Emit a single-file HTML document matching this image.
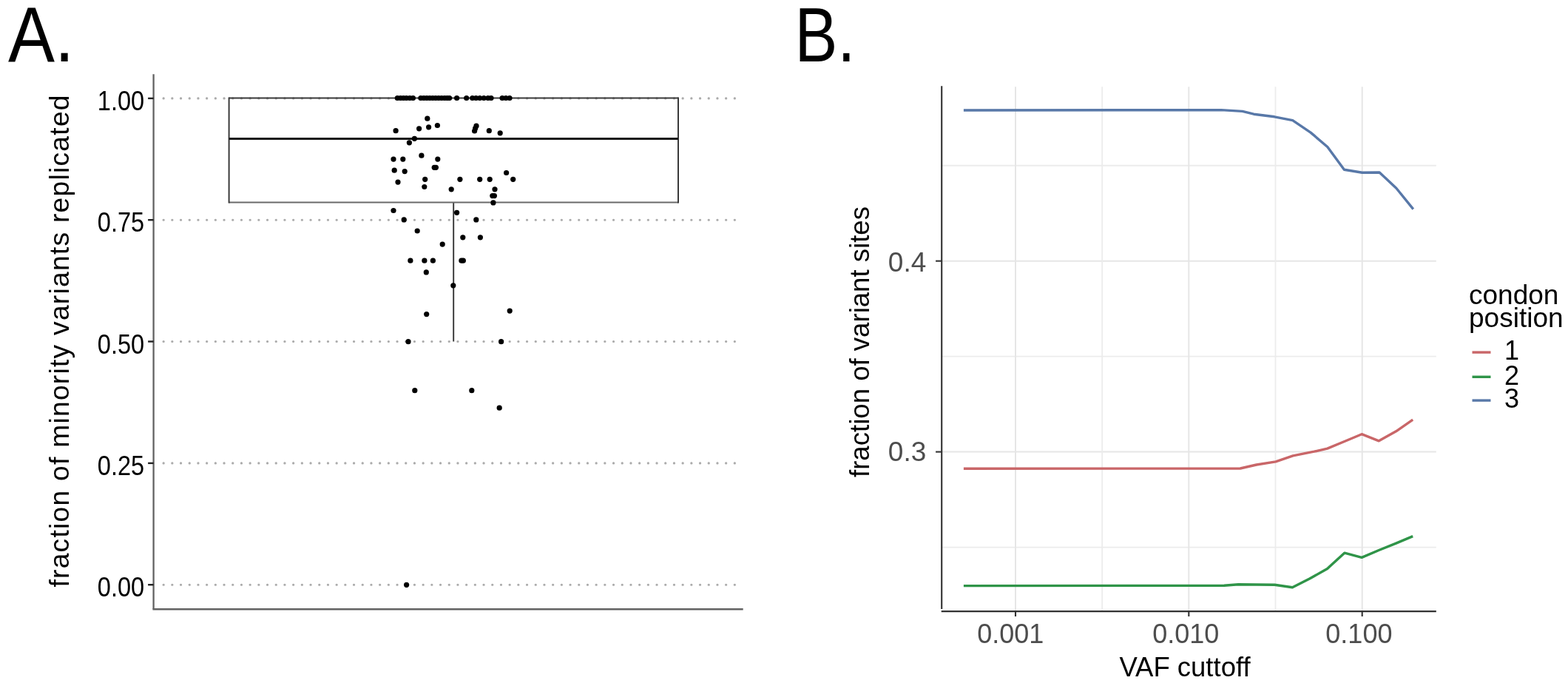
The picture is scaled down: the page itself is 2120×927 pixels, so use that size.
<!DOCTYPE html>
<html><head><meta charset="utf-8"><title>Figure</title>
<style>
html,body{margin:0;padding:0;background:#fff;}
body{width:2120px;height:927px;overflow:hidden;}
svg{display:block;}
text{font-family:"Liberation Sans",Arial,Helvetica,sans-serif;}
</style></head><body>
<svg width="2120" height="927" viewBox="0 0 2120 927">
<rect x="0" y="0" width="2120" height="927" fill="#fff"/>
<line x1="221.05" y1="132.9" x2="1004.7" y2="132.9" stroke="#ababab" stroke-width="3.1" stroke-linecap="round" stroke-dasharray="0.2 11.5"/>
<line x1="221.05" y1="297.2" x2="1004.7" y2="297.2" stroke="#ababab" stroke-width="3.1" stroke-linecap="round" stroke-dasharray="0.2 11.5"/>
<line x1="221.05" y1="461.5" x2="1004.7" y2="461.5" stroke="#ababab" stroke-width="3.1" stroke-linecap="round" stroke-dasharray="0.2 11.5"/>
<line x1="221.05" y1="625.9" x2="1004.7" y2="625.9" stroke="#ababab" stroke-width="3.1" stroke-linecap="round" stroke-dasharray="0.2 11.5"/>
<line x1="221.05" y1="790.2" x2="1004.7" y2="790.2" stroke="#ababab" stroke-width="3.1" stroke-linecap="round" stroke-dasharray="0.2 11.5"/>
<line x1="613.2" y1="273.5" x2="613.2" y2="461.5" stroke="#333" stroke-width="1.9"/>
<line x1="309.6" y1="132.5" x2="917.0" y2="132.5" stroke="#3a3a3a" stroke-width="2"/>
<line x1="309.6" y1="273.5" x2="917.0" y2="273.5" stroke="#6a6a6a" stroke-width="2.2"/>
<line x1="309.6" y1="131.5" x2="309.6" y2="274.5" stroke="#3a3a3a" stroke-width="2"/>
<line x1="917.0" y1="131.5" x2="917.0" y2="274.5" stroke="#3a3a3a" stroke-width="2"/>
<line x1="309.6" y1="187.6" x2="917.0" y2="187.6" stroke="#1a1a1a" stroke-width="3"/>
<g fill="#000">
<circle cx="537.3" cy="132.5" r="3.6"/>
<circle cx="541.5" cy="132.5" r="3.6"/>
<circle cx="545.5" cy="132.5" r="3.6"/>
<circle cx="549.5" cy="132.5" r="3.6"/>
<circle cx="554" cy="132.5" r="3.6"/>
<circle cx="558.4" cy="132.5" r="3.6"/>
<circle cx="568.9" cy="132.5" r="3.6"/>
<circle cx="573" cy="132.5" r="3.6"/>
<circle cx="577" cy="132.5" r="3.6"/>
<circle cx="581" cy="132.5" r="3.6"/>
<circle cx="585" cy="132.5" r="3.6"/>
<circle cx="589" cy="132.5" r="3.6"/>
<circle cx="593" cy="132.5" r="3.6"/>
<circle cx="597" cy="132.5" r="3.6"/>
<circle cx="601" cy="132.5" r="3.6"/>
<circle cx="604.5" cy="132.5" r="3.6"/>
<circle cx="607.6" cy="132.5" r="3.6"/>
<circle cx="617.6" cy="132.5" r="3.6"/>
<circle cx="630.7" cy="132.5" r="3.6"/>
<circle cx="638.7" cy="132.5" r="3.6"/>
<circle cx="643.6" cy="132.5" r="3.6"/>
<circle cx="648.7" cy="132.5" r="3.6"/>
<circle cx="654.2" cy="132.5" r="3.6"/>
<circle cx="659.8" cy="132.5" r="3.6"/>
<circle cx="664" cy="132.5" r="3.6"/>
<circle cx="679.1" cy="132.5" r="3.6"/>
<circle cx="684" cy="132.5" r="3.6"/>
<circle cx="689" cy="132.5" r="3.6"/>
<circle cx="577.8" cy="160.2" r="3.6"/>
<circle cx="535.1" cy="176.7" r="3.6"/>
<circle cx="566.6" cy="173.8" r="3.6"/>
<circle cx="579.6" cy="171.8" r="3.6"/>
<circle cx="591.4" cy="169.5" r="3.6"/>
<circle cx="644" cy="170.2" r="3.6"/>
<circle cx="642.6" cy="173.6" r="3.6"/>
<circle cx="641.6" cy="177" r="3.6"/>
<circle cx="661.3" cy="176.7" r="3.6"/>
<circle cx="676.2" cy="179.8" r="3.6"/>
<circle cx="560.4" cy="187.3" r="3.6"/>
<circle cx="553.4" cy="192.8" r="3.6"/>
<circle cx="532" cy="215.1" r="3.6"/>
<circle cx="544.8" cy="215.1" r="3.6"/>
<circle cx="569.9" cy="210.2" r="3.6"/>
<circle cx="591.8" cy="215.1" r="3.6"/>
<circle cx="587.2" cy="226.3" r="3.6"/>
<circle cx="589.4" cy="226.3" r="3.6"/>
<circle cx="533.2" cy="230.2" r="3.6"/>
<circle cx="547.2" cy="231.6" r="3.6"/>
<circle cx="538" cy="246.1" r="3.6"/>
<circle cx="574.7" cy="242.3" r="3.6"/>
<circle cx="573.8" cy="252.5" r="3.6"/>
<circle cx="610.2" cy="255.8" r="3.6"/>
<circle cx="621.9" cy="242.3" r="3.6"/>
<circle cx="648.7" cy="242.3" r="3.6"/>
<circle cx="662.2" cy="242.3" r="3.6"/>
<circle cx="684.6" cy="233.5" r="3.6"/>
<circle cx="693.7" cy="242.3" r="3.6"/>
<circle cx="669" cy="255.8" r="3.6"/>
<circle cx="665.8" cy="264.6" r="3.6"/>
<circle cx="668.4" cy="264.6" r="3.6"/>
<circle cx="666.9" cy="273.9" r="3.6"/>
<circle cx="532" cy="284.5" r="3.6"/>
<circle cx="617.6" cy="287.3" r="3.6"/>
<circle cx="546.2" cy="296.9" r="3.6"/>
<circle cx="643.8" cy="296.9" r="3.6"/>
<circle cx="564.2" cy="312" r="3.6"/>
<circle cx="625.8" cy="320.8" r="3.6"/>
<circle cx="649.4" cy="320.8" r="3.6"/>
<circle cx="598.2" cy="330.1" r="3.6"/>
<circle cx="554.9" cy="352.2" r="3.6"/>
<circle cx="573.9" cy="352.2" r="3.6"/>
<circle cx="585.4" cy="352.2" r="3.6"/>
<circle cx="623.9" cy="352.2" r="3.6"/>
<circle cx="626.3" cy="352.2" r="3.6"/>
<circle cx="576.3" cy="367.9" r="3.6"/>
<circle cx="612.8" cy="385.8" r="3.6"/>
<circle cx="576.7" cy="424.6" r="3.6"/>
<circle cx="689.2" cy="420.1" r="3.6"/>
<circle cx="552" cy="461.7" r="3.6"/>
<circle cx="677.6" cy="461.7" r="3.6"/>
<circle cx="560.8" cy="527.7" r="3.6"/>
<circle cx="637.8" cy="527.7" r="3.6"/>
<circle cx="675.2" cy="551.2" r="3.6"/>
<circle cx="549.6" cy="790.3" r="3.6"/>
</g>
<line x1="207.6" y1="100.2" x2="207.6" y2="823.2" stroke="#626262" stroke-width="2.3"/>
<line x1="206.45" y1="823.2" x2="1004.7" y2="823.2" stroke="#626262" stroke-width="2.6"/>
<line x1="200.1" y1="132.9" x2="207.6" y2="132.9" stroke="#222" stroke-width="2.4"/>
<line x1="200.1" y1="297.2" x2="207.6" y2="297.2" stroke="#222" stroke-width="2.4"/>
<line x1="200.1" y1="461.5" x2="207.6" y2="461.5" stroke="#222" stroke-width="2.4"/>
<line x1="200.1" y1="625.9" x2="207.6" y2="625.9" stroke="#222" stroke-width="2.4"/>
<line x1="200.1" y1="790.2" x2="207.6" y2="790.2" stroke="#222" stroke-width="2.4"/>
<text transform="translate(195.2 149.1) scale(0.93 1.04)" text-anchor="end" font-size="35">1.00</text>
<text transform="translate(195.2 313.4) scale(0.93 1.04)" text-anchor="end" font-size="35">0.75</text>
<text transform="translate(195.2 477.7) scale(0.93 1.04)" text-anchor="end" font-size="35">0.50</text>
<text transform="translate(195.2 642.1) scale(0.93 1.04)" text-anchor="end" font-size="35">0.25</text>
<text transform="translate(195.2 806.4000000000001) scale(0.93 1.04)" text-anchor="end" font-size="35">0.00</text>
<text transform="translate(93.1 460.4) rotate(-90)" text-anchor="middle" font-size="37.2" letter-spacing="1.26">fraction of minority variants replicated</text>
<line x1="1273.2" y1="223.75" x2="1941.8" y2="223.75" stroke="#ececec" stroke-width="1.8"/>
<line x1="1273.2" y1="481.65" x2="1941.8" y2="481.65" stroke="#ececec" stroke-width="1.8"/>
<line x1="1273.2" y1="739.55" x2="1941.8" y2="739.55" stroke="#ececec" stroke-width="1.8"/>
<line x1="1273.2" y1="352.7" x2="1941.8" y2="352.7" stroke="#e6e6e6" stroke-width="2"/>
<line x1="1273.2" y1="610.6" x2="1941.8" y2="610.6" stroke="#e6e6e6" stroke-width="2"/>
<line x1="1490.2" y1="117.2" x2="1490.2" y2="826.1" stroke="#ececec" stroke-width="1.8"/>
<line x1="1724.5" y1="117.2" x2="1724.5" y2="826.1" stroke="#ececec" stroke-width="1.8"/>
<line x1="1373.0" y1="117.2" x2="1373.0" y2="826.1" stroke="#e6e6e6" stroke-width="2"/>
<line x1="1607.3" y1="117.2" x2="1607.3" y2="826.1" stroke="#e6e6e6" stroke-width="2"/>
<line x1="1841.7" y1="117.2" x2="1841.7" y2="826.1" stroke="#e6e6e6" stroke-width="2"/>
<polyline points="1302.9,633.2 1676.9,633.0 1698.8,628 1724.8,623.9 1748.1,615.9 1776.8,610.2 1794.6,606.1 1817.8,596.5 1841.1,586.7 1864.3,595.8 1887.6,582.8 1910.2,567.1" fill="none" stroke="#c96668" stroke-width="3.4" stroke-linejoin="round"/>
<polyline points="1302.9,791.6 1655,791.2 1674.2,789.8 1723.4,790.3 1747.4,793.7 1770.6,782.1 1794.6,768.4 1817.8,747.2 1841.1,753.4 1864.3,743.5 1887.6,734.2 1910.2,724.6" fill="none" stroke="#2f9448" stroke-width="3.4" stroke-linejoin="round"/>
<polyline points="1302.9,149.0 1651,148.6 1679.8,150.4 1695.1,154.2 1723.1,157.8 1747.7,162.7 1772.1,179.1 1794.8,198.5 1817.4,229.3 1841.7,233.3 1865.1,233.0 1887.8,254.3 1910.8,282.6" fill="none" stroke="#5878a8" stroke-width="3.4" stroke-linejoin="round"/>
<line x1="1273.2" y1="116.2" x2="1273.2" y2="823.1" stroke="#333" stroke-width="2.1"/>
<line x1="1272.7" y1="826.1" x2="1941.8" y2="826.1" stroke="#333" stroke-width="2.3"/>
<line x1="1265.1" y1="352.7" x2="1273.2" y2="352.7" stroke="#333" stroke-width="2.1"/>
<line x1="1265.1" y1="610.6" x2="1273.2" y2="610.6" stroke="#333" stroke-width="2.1"/>
<line x1="1373.0" y1="826.1" x2="1373.0" y2="833" stroke="#333" stroke-width="2.1"/>
<line x1="1607.3" y1="826.1" x2="1607.3" y2="833" stroke="#333" stroke-width="2.1"/>
<line x1="1841.7" y1="826.1" x2="1841.7" y2="833" stroke="#333" stroke-width="2.1"/>
<text x="1252.3" y="366.6" text-anchor="end" font-size="37" fill="#4d4d4d">0.4</text>
<text x="1252.3" y="622.7" text-anchor="end" font-size="37" fill="#4d4d4d">0.3</text>
<text x="1366.2" y="869" text-anchor="middle" font-size="36" fill="#4d4d4d">0.001</text>
<text x="1603.2" y="869" text-anchor="middle" font-size="36" fill="#4d4d4d">0.010</text>
<text x="1837.4" y="869" text-anchor="middle" font-size="36" fill="#4d4d4d">0.100</text>
<text x="1602" y="914.3" text-anchor="middle" font-size="36.5">VAF cuttoff</text>
<text transform="translate(1174.8 462) rotate(-90)" text-anchor="middle" font-size="36.6">fraction of variant sites</text>
<text x="1986" y="411" font-size="37">condon</text>
<text x="1986" y="441.9" font-size="37">position</text>
<line x1="1990.5" y1="476.1" x2="2015.5" y2="476.1" stroke="#c96668" stroke-width="3.4"/>
<text x="2034" y="486.40000000000003" font-size="36">1</text>
<line x1="1990.5" y1="509.3" x2="2015.5" y2="509.3" stroke="#2f9448" stroke-width="3.4"/>
<text x="2034" y="519.6" font-size="36">2</text>
<line x1="1990.5" y1="541.1" x2="2015.5" y2="541.1" stroke="#5878a8" stroke-width="3.4"/>
<text x="2034" y="551.4" font-size="36">3</text>
<text transform="translate(11.1 83.2) scale(0.964 1.072)" font-size="98">A.</text>
<text transform="translate(1074.4 83.1) scale(0.885 1.066)" font-size="98">B.</text>
</svg>
</body></html>
